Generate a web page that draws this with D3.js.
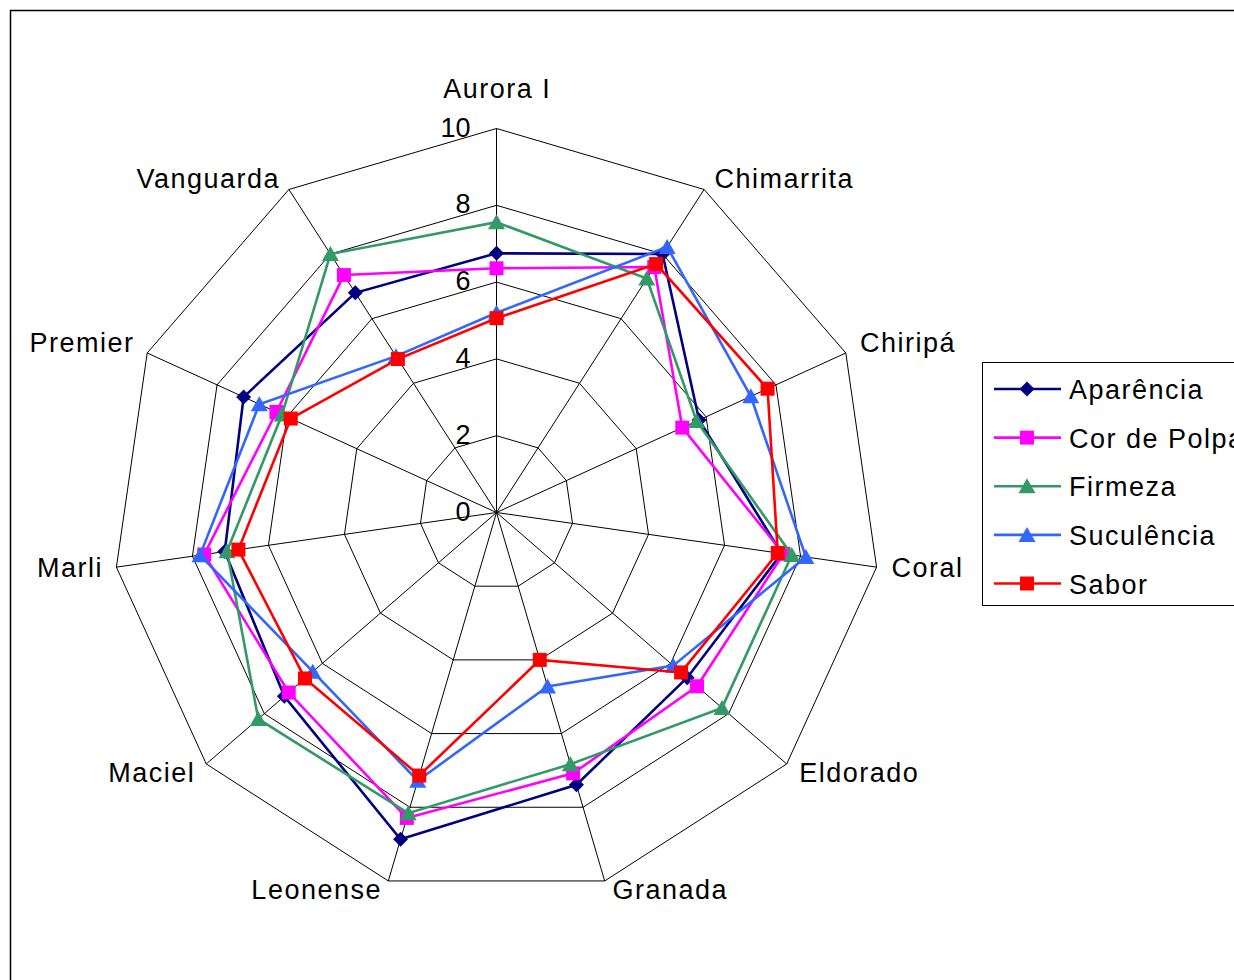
<!DOCTYPE html>
<html>
<head>
<meta charset="utf-8">
<script src="https://cdn.jsdelivr.net/npm/d3@7"></script>
<style>
  html, body { margin: 0; padding: 0; background: #fff; overflow: hidden; }
  svg { display: block; font-family: "Liberation Sans", Arial, sans-serif; }
</style>
</head>
<body>
<svg id="chart" width="1234" height="980"></svg>
<script>
// Cultivars (radar axes, clockwise from the top)
const categories = ["Aurora I", "Chimarrita", "Chiripá", "Coral", "Eldorado",
  "Granada", "Leonense", "Maciel", "Marli", "Premier", "Vanguarda"];

// Sensory scores per attribute, in the order of the categories
const aparencia  = [6.75, 8.00, 5.80, 7.50, 6.57, 7.39, 8.87, 7.31, 7.15, 7.24, 6.80];
const corDePolpa = [6.36, 7.60, 5.32, 7.55, 6.91, 7.08, 8.29, 7.16, 7.69, 6.30, 7.35];
const firmeza    = [7.56, 7.24, 5.73, 7.77, 7.77, 6.83, 8.16, 8.21, 7.09, 6.14, 8.00];
const suculencia = [5.20, 8.22, 7.28, 8.14, 6.09, 4.72, 7.28, 6.33, 7.80, 6.79, 4.84];
const sabor      = [5.06, 7.69, 7.76, 7.40, 6.36, 4.00, 7.14, 6.60, 6.79, 5.89, 4.75];

const seriesNames = ["Aparência", "Cor de Polpa", "Firmeza", "Suculência", "Sabor"];
const tickValues = [0, 2, 4, 6, 8, 10];

const seriesValues = [aparencia, corDePolpa, firmeza, suculencia, sabor];
const seriesStyle = [
  { color: "#000080", marker: "diamond" },
  { color: "#FF00FF", marker: "square" },
  { color: "#339966", marker: "triangle" },
  { color: "#3366FF", marker: "triangle" },
  { color: "#FF0000", marker: "square" }
];

const svg = d3.select("#chart");
const cx = 496.5, cy = 512.5;
const n = categories.length;

const r = d3.scaleLinear().domain([0, 10]).range([0, 384]);
const angle = d3.scaleLinear().domain([0, n]).range([0, 2 * Math.PI]);

const px = (i, v) => cx + r(v) * Math.sin(angle(i));
const py = (i, v) => cy - r(v) * Math.cos(angle(i));

// Outer chart frame
svg.append("rect")
  .attr("x", 10.5).attr("y", 10.5)
  .attr("width", 1400).attr("height", 1100)
  .attr("fill", "none").attr("stroke", "#000").attr("stroke-width", 1.5);

const plot = svg.append("g");

// Polygonal grid rings
const ringLine = d3.lineRadial()
  .angle((d, i) => angle(i))
  .radius(d => r(d))
  .curve(d3.curveLinearClosed);

plot.append("g").attr("transform", `translate(${cx},${cy})`)
  .selectAll("path.ring")
  .data(tickValues.filter(t => t > 0))
  .join("path")
  .attr("class", "ring")
  .attr("d", t => ringLine(d3.range(n).map(() => t)))
  .attr("fill", "none").attr("stroke", "#000").attr("stroke-width", 1);

// Spokes
plot.append("g").selectAll("line.spoke")
  .data(d3.range(n))
  .join("line")
  .attr("class", "spoke")
  .attr("x1", cx).attr("y1", cy)
  .attr("x2", i => px(i, 10)).attr("y2", i => py(i, 10))
  .attr("stroke", "#000").attr("stroke-width", 1);

// Value axis labels along the top spoke
plot.append("g").selectAll("text.tick")
  .data(tickValues)
  .join("text")
  .attr("class", "tick")
  .attr("x", cx - 26)
  .attr("y", t => cy - r(t) + 8)
  .attr("text-anchor", "end")
  .attr("font-size", 27)
  .attr("fill", "#000")
  .text(t => t);

// Category labels outside the outer ring
const LS = 1.5;
plot.append("g").selectAll("text.cat")
  .data(categories)
  .join("text")
  .attr("class", "cat")
  .attr("font-size", 27)
  .attr("letter-spacing", LS)
  .attr("fill", "#000")
  .each(function(name, i) {
    const a = angle(i);
    const s = Math.sin(a), c = Math.cos(a);
    const vx = px(i, 10), vy = py(i, 10);
    const t = d3.select(this);
    if (i === 0) {
      t.attr("x", vx + LS / 2).attr("y", vy - 31).attr("text-anchor", "middle");
    } else {
      const off = 5 + 10 * Math.abs(s);
      const dy = c > 0.2 ? -1 : (c < -0.2 ? 18 : 10);
      if (s > 0) t.attr("x", vx + off).attr("text-anchor", "start");
      else t.attr("x", vx - off + LS).attr("text-anchor", "end");
      t.attr("y", vy + dy);
    }
    t.text(name);
  });

// Marker shapes
function markerPath(type) {
  if (type === "diamond") return "M0,-7.5L7.5,0L0,7.5L-7.5,0Z";
  if (type === "square") return "M-7,-7H7V7H-7Z";
  return "M0,-8L8.5,7H-8.5Z"; // triangle
}

// Series: closed polylines with markers, later series drawn on top
const seriesLine = d3.lineRadial()
  .angle((d, i) => angle(i))
  .radius(d => r(d))
  .curve(d3.curveLinearClosed);

seriesValues.forEach((vals, k) => {
  const st = seriesStyle[k];
  const g = plot.append("g").attr("class", "series");
  g.append("path")
    .attr("transform", `translate(${cx},${cy})`)
    .attr("d", seriesLine(vals))
    .attr("fill", "none")
    .attr("stroke", st.color)
    .attr("stroke-width", 2.6)
    .attr("stroke-linejoin", "miter");
  g.selectAll("path.mk")
    .data(vals)
    .join("path")
    .attr("class", "mk")
    .attr("transform", (v, i) => `translate(${px(i, v)},${py(i, v)})`)
    .attr("d", markerPath(st.marker))
    .attr("fill", st.color);
});

// Legend
const legend = svg.append("g");
legend.append("rect")
  .attr("x", 982.5).attr("y", 362.5)
  .attr("width", 400).attr("height", 243)
  .attr("fill", "#fff").attr("stroke", "#000").attr("stroke-width", 1);

const rowY = d3.scaleLinear().domain([0, 4]).range([389, 583.5]);
seriesNames.forEach((name, k) => {
  const st = seriesStyle[k];
  const y = rowY(k);
  legend.append("line")
    .attr("x1", 994).attr("x2", 1061)
    .attr("y1", y).attr("y2", y)
    .attr("stroke", st.color).attr("stroke-width", 2.6);
  legend.append("path")
    .attr("transform", `translate(1027,${y})`)
    .attr("d", markerPath(st.marker))
    .attr("fill", st.color);
  legend.append("text")
    .attr("x", 1069).attr("y", y + 10)
    .attr("font-size", 27)
    .attr("letter-spacing", LS)
    .attr("fill", "#000")
    .text(name);
});
</script>
</body>
</html>
